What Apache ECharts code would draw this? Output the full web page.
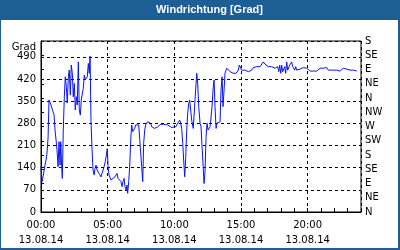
<!DOCTYPE html>
<html>
<head>
<meta charset="utf-8">
<script src="https://cdn.jsdelivr.net/npm/echarts@6/dist/echarts.min.js"></script>
<style>
html,body{margin:0;padding:0;background:#fff;}
#c{width:400px;height:250px;}
</style>
</head>
<body>
<div id="c"></div>
<script>
// Time of day in hours (13.08.14)
var times = [
0,0.08,0.15,0.23,0.3,0.38,0.45,0.53,0.6,0.68,
0.75,0.83,0.9,0.98,1.05,1.13,1.2,1.28,1.35,1.43,
1.48,1.55,1.6,1.67,1.75,1.82,1.9,1.97,2.05,2.12,
2.2,2.27,2.35,2.42,2.5,2.57,2.65,2.72,2.8,2.87,
2.95,3.02,3.1,3.17,3.25,3.32,3.4,3.47,3.55,3.62,
3.68,3.75,3.83,3.9,3.98,4.05,4.13,4.2,4.28,4.35,
4.43,4.5,4.58,4.65,4.73,4.82,4.9,4.97,5.03,5.1,
5.25,5.4,5.55,5.7,5.78,5.85,5.93,6.0,6.08,6.15,
6.23,6.3,6.38,6.45,6.5,6.58,6.65,6.73,6.8,6.88,
6.95,7.03,7.1,7.18,7.25,7.33,7.4,7.48,7.55,7.63,
7.7,7.78,7.85,7.93,8.0,8.08,8.15,8.23,8.3,8.38,
8.45,8.53,8.6,8.68,8.75,8.83,8.9,8.98,9.2,9.35,
9.5,9.65,9.8,9.95,10.1,10.25,10.4,10.48,10.55,10.63,
10.7,10.78,10.85,10.93,11.0,11.08,11.15,11.3,11.42,11.55,
11.68,11.75,11.83,11.93,12.0,12.15,12.23,12.3,12.38,12.45,
12.53,12.68,12.83,12.9,12.98,13.05,13.13,13.2,13.28,13.43,
13.5,13.58,13.65,13.73,13.8,13.93,14.05,14.18,14.42,14.63,
14.8,14.87,14.95,15.05,15.17,15.3,15.43,15.55,15.68,15.8,
15.92,16.05,16.18,16.3,16.43,16.55,16.67,16.8,16.93,17.05,
17.18,17.3,17.42,17.55,17.68,17.75,17.83,17.9,17.98,18.05,
18.13,18.2,18.28,18.35,18.43,18.5,18.58,18.65,18.73,18.8,
18.88,18.95,19.03,19.1,19.18,19.3,19.43,19.55,19.67,19.8,
19.93,20.05,20.18,20.3,20.42,20.55,20.68,20.8,20.93,21.05,
21.17,21.3,21.43,21.55,21.68,21.8,21.92,22.18,22.43,22.55,
22.67,22.8,22.93,23.05,23.18,23.3,23.42,23.55,23.68
];
// Wind direction in degrees
var directions = [
143,96,111,107,148,164,186,234,354,348,
338,333,317,306,259,227,196,143,222,148,
222,143,106,259,364,427,396,344,427,448,
369,464,438,364,406,322,364,338,474,322,
306,354,359,390,432,417,411,427,469,438,
492,285,196,133,117,138,148,133,127,122,
117,111,106,117,143,159,180,200,143,117,
101,101,111,122,106,101,106,96,80,96,
106,80,69,85,59,96,143,227,275,254,
248,264,275,280,275,275,275,269,143,96,
217,259,275,280,285,288,285,280,269,275,
269,264,269,264,269,275,275,277,277,276,
275,272,267,264,269,275,290,280,264,217,
164,111,169,259,311,343,354,290,264,354,
438,406,333,280,269,264,90,127,238,280,
259,269,333,385,417,333,264,280,285,285,
385,427,333,385,438,454,451,443,438,438,
448,464,459,448,454,448,445,443,438,448,
456,454,459,454,459,459,474,467,464,459,
464,459,464,454,448,459,443,464,438,464,
443,438,459,438,474,448,443,464,469,474,
459,454,448,459,448,454,451,448,456,459,
454,448,445,451,445,448,445,451,454,454,
454,454,456,448,445,448,448,448,445,451,
454,448,451,445,448,445,448,445,445
];
var compassLabels = ['N','NE','E','SE','S','SW','W','NW','N','NE','E','SE','S'];
var dateLabel = '13.08.14';
var titleText = 'Windrichtung [Grad]';
var unitText = 'Grad';

var data = times.map(function(t,i){return [t, directions[i]];});
function pad(n){return (n<10?'0':'')+n;}

var FONT = 'DejaVu Sans';
var BLUE = '#1d5e94';
var chart = echarts.init(document.getElementById('c'), null, {renderer:'canvas'});
chart.setOption({
  animation:false,
  backgroundColor:'#ffffff',
  grid:{left:41, right:39, top:41, bottom:38, show:true, borderColor:'#000', borderWidth:1, backgroundColor:'transparent'},
  xAxis:[{
    type:'value', min:0, max:24, interval:5,
    axisLine:{show:true, lineStyle:{color:'#000', width:1}},
    axisTick:{show:false},
    splitLine:{show:true, lineStyle:{color:'#000', width:1, type:[3,3]}},
    axisLabel:{
      color:'#000', fontFamily:FONT, fontSize:10, margin:6, lineHeight:15,
      showMaxLabel:false,
      formatter:function(v){ if(v>=24) return ''; return pad(v)+':00\n'+dateLabel; }
    }
  },{
    type:'value', min:0, max:24, interval:1, position:'bottom',
    axisLine:{show:false},
    axisTick:{show:true, inside:true, length:4, lineStyle:{color:'#000', width:1}},
    axisLabel:{show:false},
    splitLine:{show:false}
  }],
  yAxis:[{
    type:'value', min:0, max:540, interval:70, position:'left',
    axisLine:{show:true, lineStyle:{color:'#000'}},
    axisTick:{show:false},
    splitLine:{show:true, lineStyle:{color:'#000', width:1, type:[3,3]}},
    axisLabel:{
      color:'#000', fontFamily:FONT, fontSize:10, margin:5,
      formatter:function(v){ return v>=540 ? '' : String(v); }
    }
  },{
    type:'value', min:0, max:540, interval:45, position:'right',
    axisLine:{show:true, lineStyle:{color:'#000'}},
    axisTick:{show:true, inside:false, length:3, lineStyle:{color:'#000'}},
    splitLine:{show:false},
    axisLabel:{
      color:'#000', fontFamily:FONT, fontSize:10, margin:4,
      formatter:function(v){ return compassLabels[Math.round(v/45)] || ''; }
    }
  }],
  series:[{
    type:'line', xAxisIndex:0, yAxisIndex:0,
    data:data, showSymbol:false, symbol:'none',
    lineStyle:{color:'#0a14f0', width:1},
    itemStyle:{color:'#0a14f0'}
  }],
  graphic:[
    {type:'rect', shape:{x:0,y:0,width:400,height:20}, style:{fill:BLUE}, z:10},
    {type:'rect', shape:{x:0,y:0,width:1,height:250}, style:{fill:BLUE}, z:10},
    {type:'rect', shape:{x:398,y:0,width:2,height:250}, style:{fill:BLUE}, z:10},
    {type:'rect', shape:{x:0,y:248,width:400,height:2}, style:{fill:BLUE}, z:10},
    {type:'text', x:209.5, y:10, z:11, style:{text:titleText, fill:'#fff', font:'bold 11px "Liberation Sans"', align:'center', verticalAlign:'middle'}},
    {type:'text', x:36, y:47, z:11, style:{text:unitText, fill:'#000', font:'10px "DejaVu Sans"', align:'right', verticalAlign:'middle'}}
  ]
});
</script>
</body>
</html>
